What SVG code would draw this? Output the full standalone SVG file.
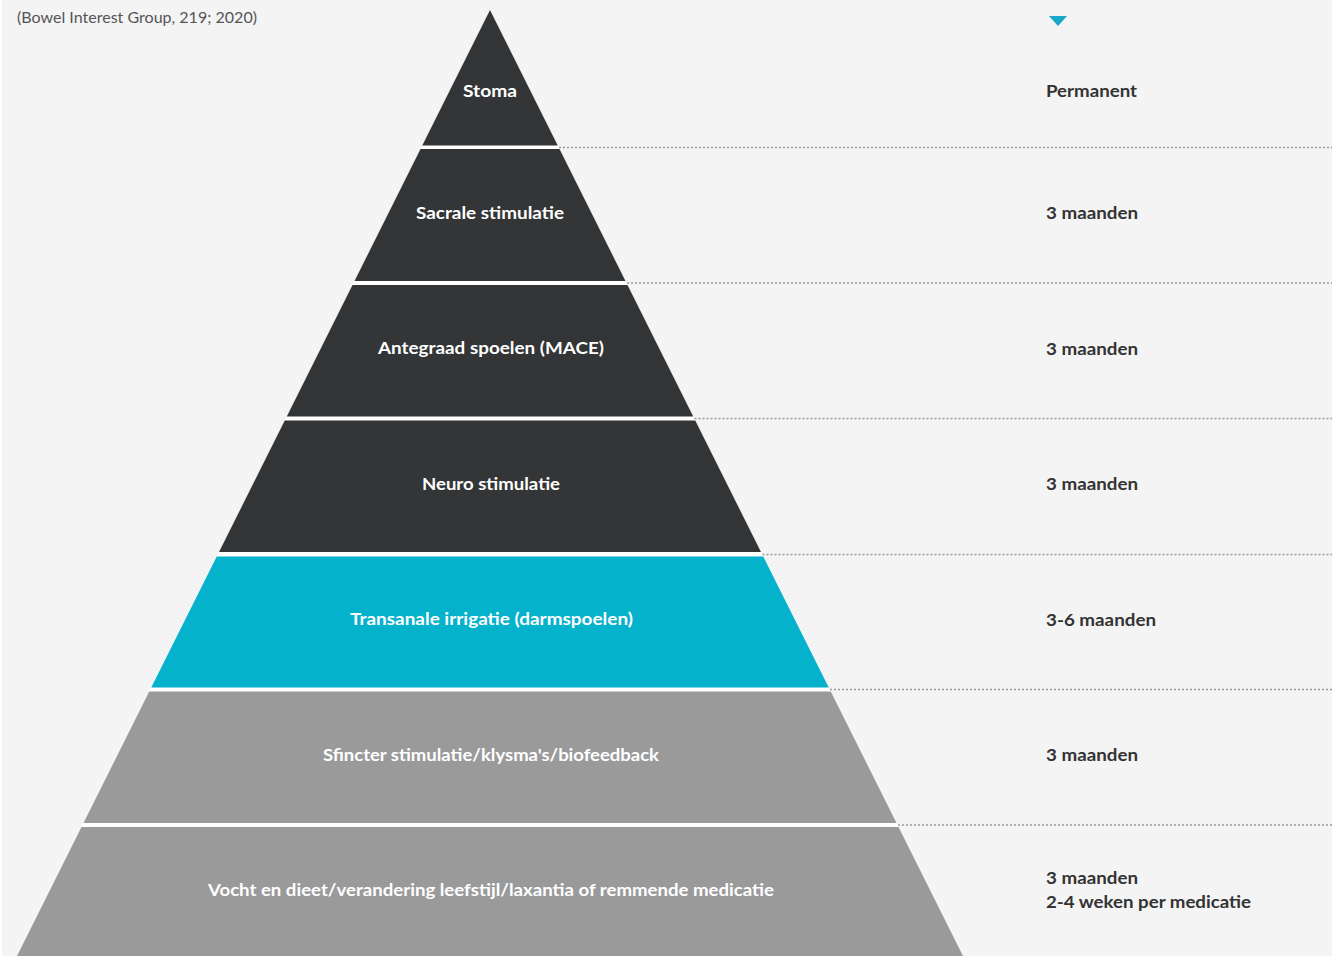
<svg xmlns="http://www.w3.org/2000/svg" width="1332" height="956" viewBox="0 0 1332 956">
  <style>
    .lbl { font-family: "Lato", "Open Sans", "Liberation Sans", sans-serif; font-weight: 700; font-size: 17px; text-anchor: middle; fill: #ffffff; }
    .dur { font-family: "Lato", "Open Sans", "Liberation Sans", sans-serif; font-weight: 700; font-size: 17px; fill: #333333; }
    .cite { font-family: "Lato", "Open Sans", "Liberation Sans", sans-serif; font-weight: 400; font-size: 15px; fill: #555555; }
    .dark { fill: #333536; }
    .cyan { fill: #05b2cc; }
    .grey { fill: #9a9a9b; }
    .dot { stroke: #9a9a9a; stroke-width: 1.6; stroke-dasharray: 2 2; fill: none; }
  </style>
  <rect x="0" y="0" width="1332" height="956" fill="#f4f4f4"/>
  <rect x="0" y="0" width="2" height="956" fill="#ffffff"/>
  <text class="cite" x="17" y="23" textLength="240" lengthAdjust="spacingAndGlyphs">(Bowel Interest Group, 219; 2020)</text>
  <polygon points="1049,16 1067,16 1058,26" fill="#1aa8c8"/>

  <polygon points="490,10 963,956 17,956" fill="#ffffff"/>

  <g id="connectors">
    <line class="dot" x1="559" y1="147.5" x2="1332" y2="147.5"/>
    <line class="dot" x1="627" y1="283" x2="1332" y2="283"/>
    <line class="dot" x1="694.5" y1="418.5" x2="1332" y2="418.5"/>
    <line class="dot" x1="762.5" y1="554.5" x2="1332" y2="554.5"/>
    <line class="dot" x1="830" y1="689.5" x2="1332" y2="689.5"/>
    <line class="dot" x1="898" y1="825" x2="1332" y2="825"/>
  </g>

  <g id="layer-stoma">
    <polygon class="dark" points="490,10 557.75,145.5 422.25,145.5"/>
    <text class="lbl" x="490" y="97" textLength="54" lengthAdjust="spacingAndGlyphs">Stoma</text>
    <text class="dur" x="1046" y="97" textLength="91" lengthAdjust="spacingAndGlyphs">Permanent</text>
  </g>
  <g id="layer-sacrale">
    <polygon class="dark" points="420.5,149 559.5,149 625.5,281 354.5,281"/>
    <text class="lbl" x="490" y="219" textLength="148" lengthAdjust="spacingAndGlyphs">Sacrale stimulatie</text>
    <text class="dur" x="1046" y="219" textLength="92" lengthAdjust="spacingAndGlyphs">3 maanden</text>
  </g>
  <g id="layer-mace">
    <polygon class="dark" points="352.5,285 627.5,285 693.25,416.5 286.75,416.5"/>
    <text class="lbl" x="491" y="354" textLength="226" lengthAdjust="spacingAndGlyphs">Antegraad spoelen (MACE)</text>
    <text class="dur" x="1046" y="355" textLength="92" lengthAdjust="spacingAndGlyphs">3 maanden</text>
  </g>
  <g id="layer-neuro">
    <polygon class="dark" points="284.75,420.5 695.25,420.5 761,552 219,552"/>
    <text class="lbl" x="491" y="490" textLength="138" lengthAdjust="spacingAndGlyphs">Neuro stimulatie</text>
    <text class="dur" x="1046" y="490" textLength="92" lengthAdjust="spacingAndGlyphs">3 maanden</text>
  </g>
  <g id="layer-transanale">
    <polygon class="cyan" points="216.75,556.5 763.25,556.5 828.75,687.5 151.25,687.5"/>
    <text class="lbl" x="491.5" y="625" textLength="283" lengthAdjust="spacingAndGlyphs">Transanale irrigatie (darmspoelen)</text>
    <text class="dur" x="1046" y="626" textLength="110" lengthAdjust="spacingAndGlyphs">3-6 maanden</text>
  </g>
  <g id="layer-sfincter">
    <polygon class="grey" points="149.25,691.5 830.75,691.5 896.5,823 83.5,823"/>
    <text class="lbl" x="491" y="761" textLength="336" lengthAdjust="spacingAndGlyphs">Sfincter stimulatie/klysma's/biofeedback</text>
    <text class="dur" x="1046" y="761" textLength="92" lengthAdjust="spacingAndGlyphs">3 maanden</text>
  </g>
  <g id="layer-vocht">
    <polygon class="grey" points="81.5,827 898.5,827 963,956 17,956"/>
    <text class="lbl" x="491" y="896" textLength="566" lengthAdjust="spacingAndGlyphs">Vocht en dieet/verandering leefstijl/laxantia of remmende medicatie</text>
    <text class="dur" x="1046" y="884" textLength="92" lengthAdjust="spacingAndGlyphs">3 maanden</text>
    <text class="dur" x="1046" y="908" textLength="205" lengthAdjust="spacingAndGlyphs">2-4 weken per medicatie</text>
  </g>
</svg>
